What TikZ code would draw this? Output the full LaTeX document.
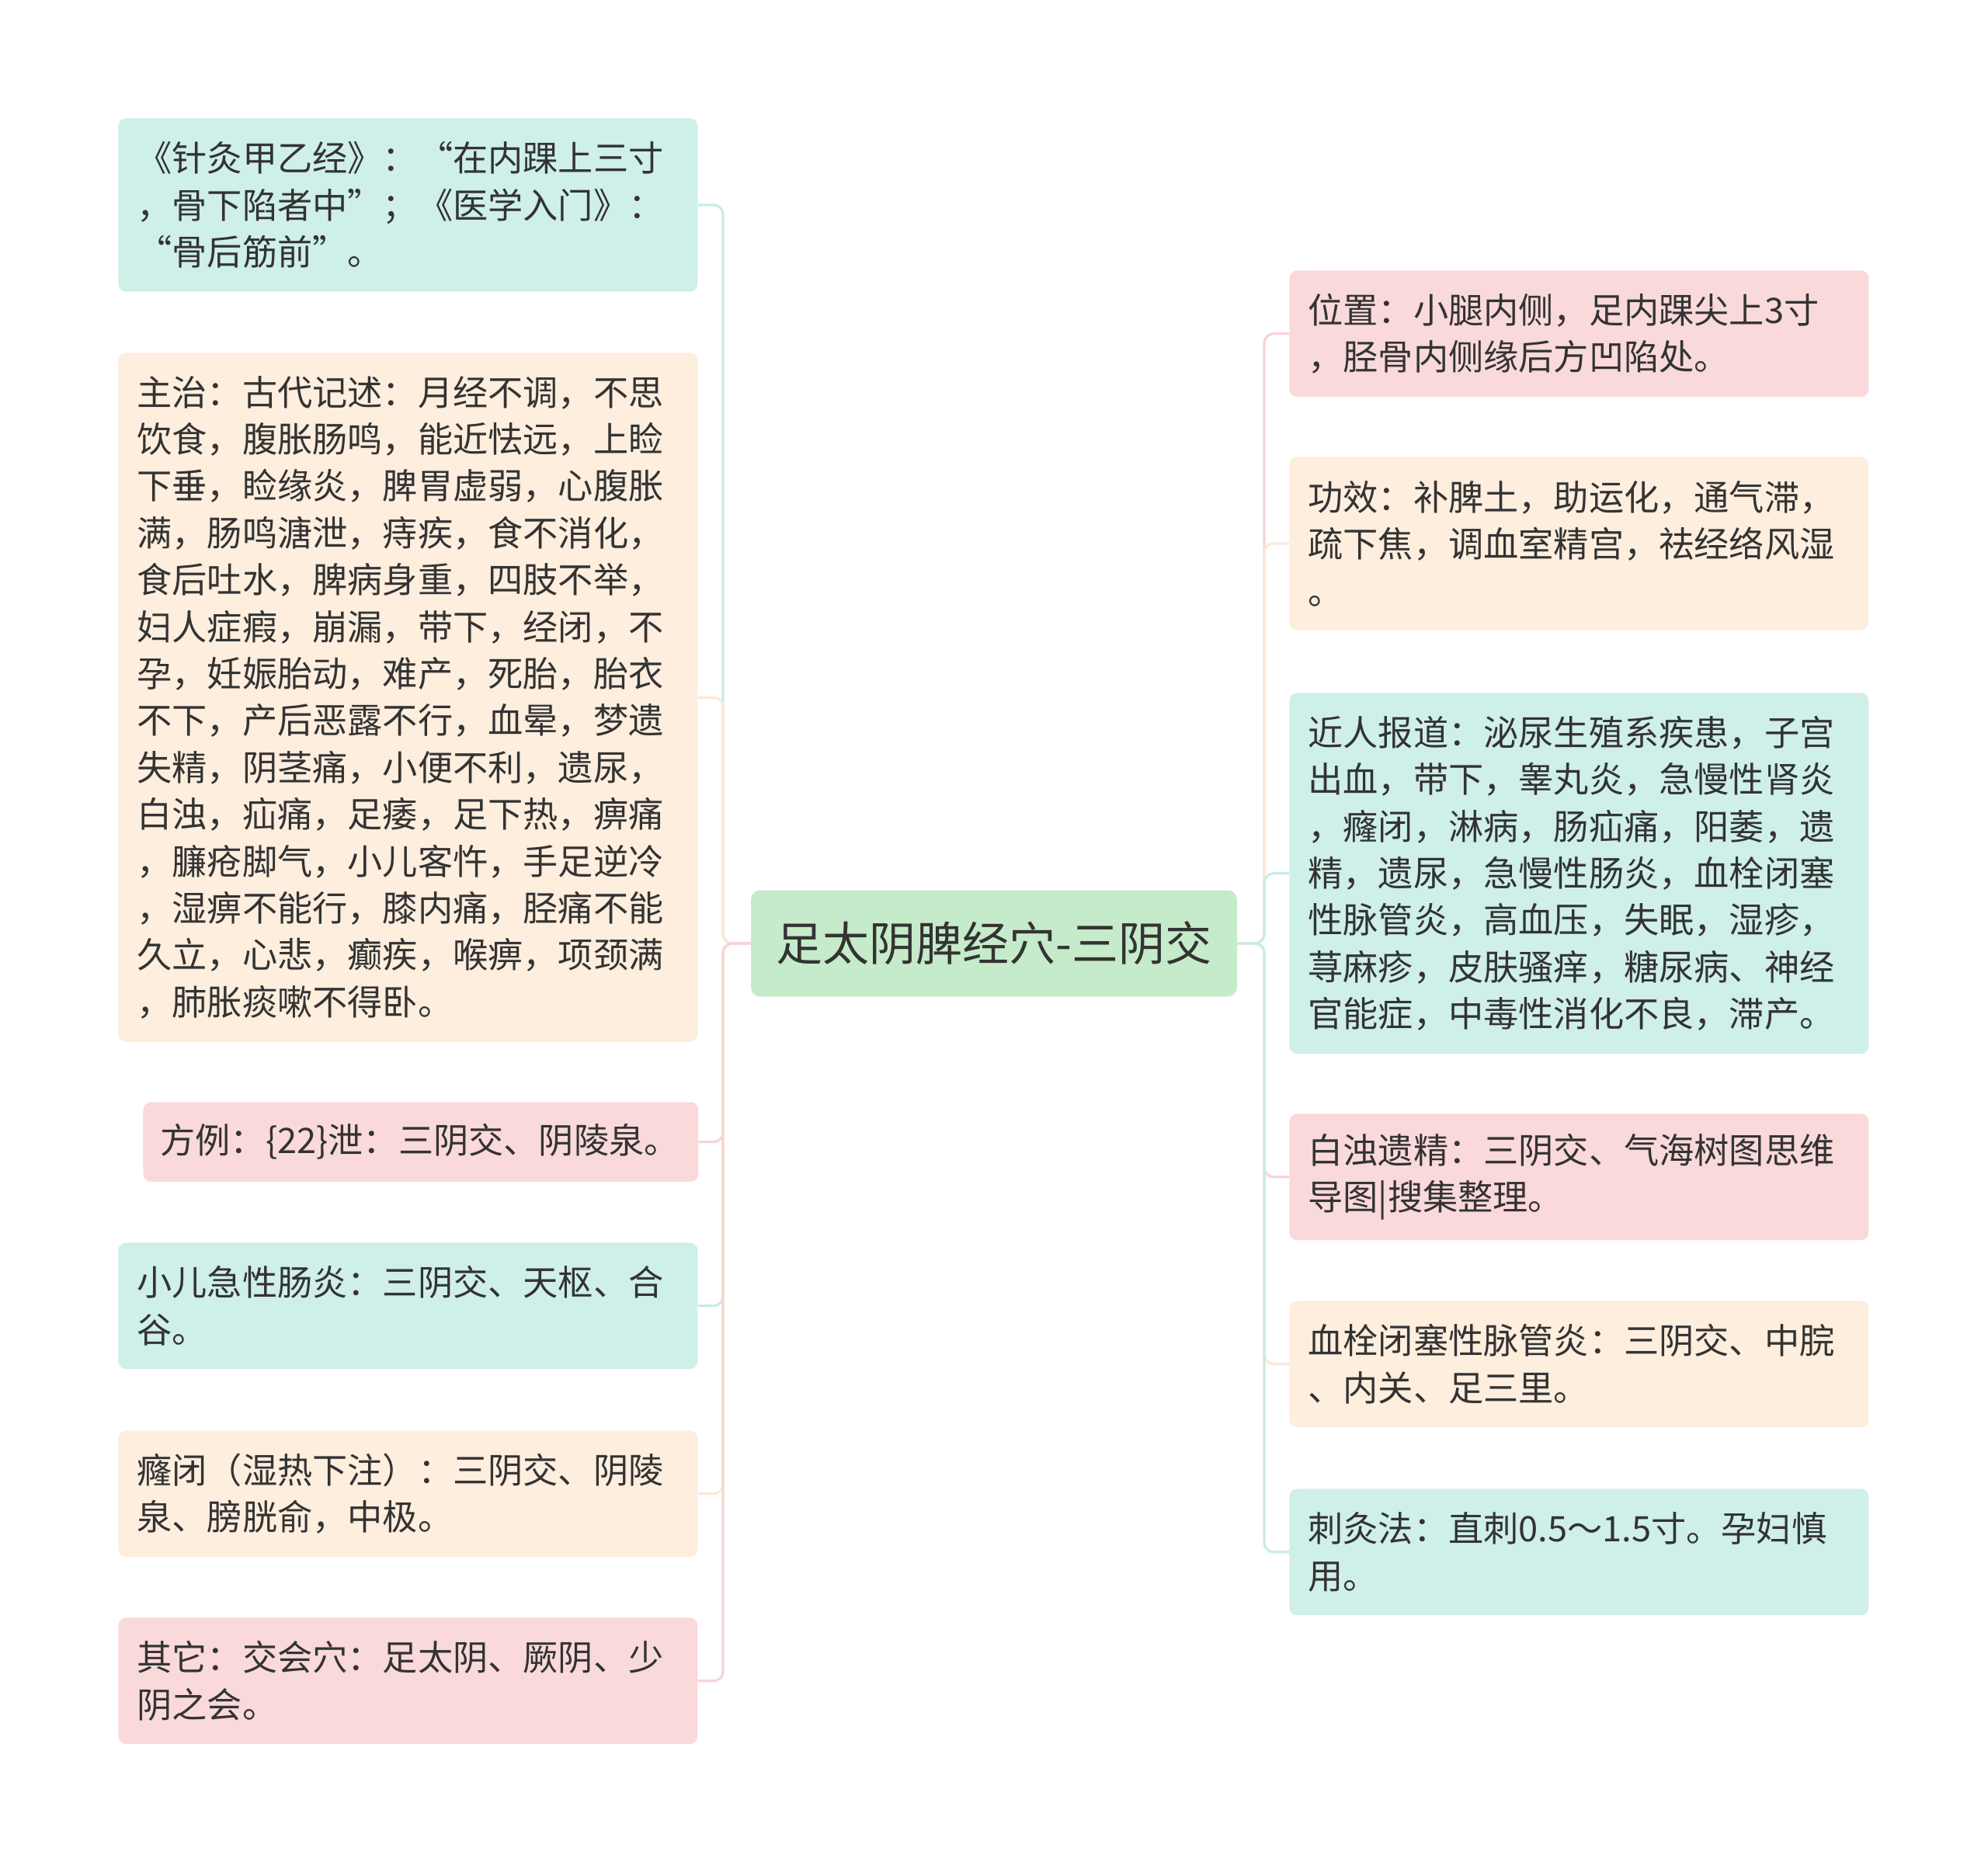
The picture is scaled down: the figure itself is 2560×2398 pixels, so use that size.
\documentclass[tikz,border=0pt]{standalone}
\usepackage{fontspec}
\setmainfont{Noto Sans CJK SC}
\usepackage{xcolor}

\definecolor{tealbox}{HTML}{CFEFE9}
\definecolor{peachbox}{HTML}{FDEEDE}
\definecolor{pinkbox}{HTML}{FAD9DA}
\definecolor{greenbox}{HTML}{C6EBCA}
\definecolor{inkgray}{HTML}{333333}
\definecolor{tealline}{HTML}{C8ECE5}
\definecolor{peachline}{HTML}{FCE8D6}
\definecolor{pinkline}{HTML}{F8D4D5}

\tikzset{
	topic/.style={
		fill=greenbox, rounded corners=6pt, text=inkgray,
		minimum width=313pt, minimum height=68.5pt,
		font=\fontsize{30pt}{36pt}\selectfont},
	leaf/.style={
		anchor=north west, rounded corners=5pt, text=inkgray,
		text width=349pt, inner xsep=12pt, align=left,
		minimum height=30.2pt*#1+21pt,
		font=\fontsize{22.6pt}{30.2pt}\selectfont},
	link/.style={
		draw=#1, line width=1.6pt, rounded corners=6pt}
}

\begin{document}
\begin{tikzpicture}[x=0.5pt,y=-0.5pt]
			%\draw[help lines] (0,0) grid (2560,2398);
			\useasboundingbox (0,0) rectangle (2560,2398);
			
			\node[topic] (root) at (1280,1215) {足太阴脾经穴-三阴交};
			\coordinate (ltrunk) at (931,1215);
			\coordinate (rtrunk) at (1628,1215);
			
			% left side
			\node[leaf=3, fill=tealbox] (zhenjiu) at (152,152)
				{《针灸甲乙经》：“在内踝上三寸\\，骨下陷者中”；《医学入门》：\\“骨后筋前”。};
			\node[leaf=14, fill=peachbox] (zhuzhi) at (152,454)
				{主治：古代记述：月经不调，不思\\饮食，腹胀肠鸣，能近怯远，上睑\\下垂，睑缘炎，脾胃虚弱，心腹胀\\满，肠鸣溏泄，痔疾，食不消化，\\食后吐水，脾病身重，四肢不举，\\妇人症瘕，崩漏，带下，经闭，不\\孕，妊娠胎动，难产，死胎，胎衣\\不下，产后恶露不行，血晕，梦遗\\失精，阴茎痛，小便不利，遗尿，\\白浊，疝痛，足痿，足下热，痹痛\\，臁疮脚气，小儿客忤，手足逆冷\\，湿痹不能行，膝内痛，胫痛不能\\久立，心悲，癫疾，喉痹，项颈满\\，肺胀痰嗽不得卧。};
			\node[leaf=1, fill=pinkbox, text width=335.5pt, inner xsep=11pt] (fangli) at (184,1419)
				{方例：\{22\}泄：三阴交、阴陵泉。};
			\node[leaf=2, fill=tealbox] (xiaoer) at (152,1600)
				{小儿急性肠炎：三阴交、天枢、合\\谷。};
			\node[leaf=2, fill=peachbox] (longbi) at (152,1842)
				{癃闭（湿热下注）：三阴交、阴陵\\泉、膀胱俞，中极。};
			\node[leaf=2, fill=pinkbox] (qita) at (152,2083)
				{其它：交会穴：足太阴、厥阴、少\\阴之会。};
			
			% right side
			\node[leaf=2, fill=pinkbox] (weizhi) at (1660,348)
				{位置：小腿内侧，足内踝尖上3寸\\，胫骨内侧缘后方凹陷处。};
			\node[leaf=3, fill=peachbox] (gongxiao) at (1660,588)
				{功效：补脾土，助运化，通气滞，\\疏下焦，调血室精宫，祛经络风湿\\。};
			\node[leaf=7, fill=tealbox] (baodao) at (1660,892)
				{近人报道：泌尿生殖系疾患，子宫\\出血，带下，睾丸炎，急慢性肾炎\\，癃闭，淋病，肠疝痛，阳萎，遗\\精，遗尿，急慢性肠炎，血栓闭塞\\性脉管炎，高血压，失眠，湿疹，\\荨麻疹，皮肤骚痒，糖尿病、神经\\官能症，中毒性消化不良，滞产。};
			\node[leaf=2, fill=pinkbox] (baizhuo) at (1660,1434)
				{白浊遗精：三阴交、气海树图思维\\导图|搜集整理。};
			\node[leaf=2, fill=peachbox] (xueshuan) at (1660,1675)
				{血栓闭塞性脉管炎：三阴交、中脘\\、内关、足三里。};
			\node[leaf=2, fill=tealbox] (cijiu) at (1660,1917)
				{刺灸法：直刺0.5～1.5寸。孕妇慎\\用。};
			
			\draw[link=tealline] (root.west) -- (ltrunk) |- (zhenjiu.east);
			\draw[link=peachline] (root.west) -- (ltrunk) |- (zhuzhi.east);
			\draw[link=pinkline] (root.west) -- (ltrunk) |- (fangli.east);
			\draw[link=tealline] (root.west) -- (ltrunk) |- (xiaoer.east);
			\draw[link=peachline] (root.west) -- (ltrunk) |- (longbi.east);
			\draw[link=pinkline] (root.west) -- (ltrunk) |- (qita.east);
			
			\draw[link=pinkline] (root.east) -- (rtrunk) |- (weizhi.west);
			\draw[link=peachline] (root.east) -- (rtrunk) |- (gongxiao.west);
			\draw[link=tealline] (root.east) -- (rtrunk) |- (baodao.west);
			\draw[link=pinkline] (root.east) -- (rtrunk) |- (baizhuo.west);
			\draw[link=peachline] (root.east) -- (rtrunk) |- (xueshuan.west);
			\draw[link=tealline] (root.east) -- (rtrunk) |- (cijiu.west);
\end{tikzpicture}
\end{document}
